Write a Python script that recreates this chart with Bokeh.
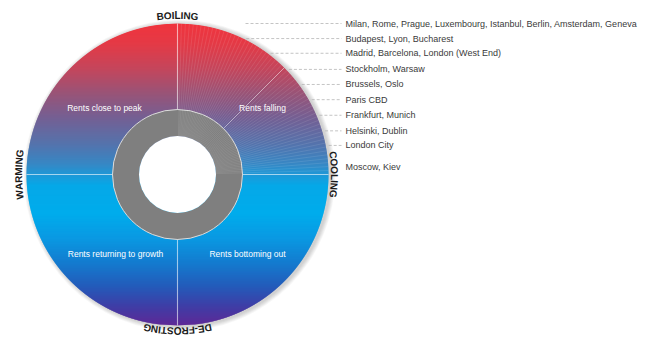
import numpy as np
from bokeh.plotting import figure
from bokeh.models import Range1d
from bokeh.embed import file_html
from bokeh.resources import INLINE
from bokeh.core.properties import value

# ---------------- data ----------------
city_groups = [
    "Milan, Rome, Prague, Luxembourg, Istanbul, Berlin, Amsterdam, Geneva",
    "Budapest, Lyon, Bucharest",
    "Madrid, Barcelona, London (West End)",
    "Stockholm, Warsaw",
    "Brussels, Oslo",
    "Paris CBD",
    "Frankfurt, Munich",
    "Helsinki, Dublin",
    "London City",
    "Moscow, Kiev",
]
# position on the property clock (hours after 12 o'clock)
clock_hours = [0.0, 0.86, 1.22, 1.53, 1.78, 2.01, 2.23, 2.44, 2.63, 2.91]
has_leader = [True, True, True, True, True, True, True, True, True, False]

phases = ["BOILING", "COOLING", "DE-FROSTING", "WARMING"]
phase_hours = [0, 3, 6, 9]

quadrant_labels = ["Rents falling", "Rents bottoming out",
                   "Rents returning to growth", "Rents close to peak"]

# ---------------- layout / style ----------------
W, H = 658, 338
cx, cy = 177.0, 164.0          # clock centre (data = pixels)
R = 151.0                      # outer radius
R_RING = 65.0                  # grey ring outer radius
R_HOLE = 38.5                  # white hole radius
FONT = "Liberation Sans"

p = figure(width=W, height=H, x_range=Range1d(0, W), y_range=Range1d(0, H),
           output_backend="svg", toolbar_location=None, min_border=0,
           x_axis_location=None, y_axis_location=None)
p.grid.visible = False
p.outline_line_color = None
p.background_fill_color = "white"
p.border_fill_color = "white"

# soft drop shadow
for k in range(1, 7):
    p.circle(x=[cx + 2.0], y=[cy - 1.0], radius=R + k * 0.8,
             fill_color="black", fill_alpha=0.03, line_color=None)

# vertical colour gradient (stops by depth below the top of the clock)
stops_d = [0, 20, 45, 70, 95, 120, 140, 151, 162, 190, 215, 240, 262, 282, 302]
stops_c = np.array([
    (240, 52, 62), (228, 58, 70), (196, 70, 92), (152, 84, 120), (115, 96, 148),
    (85, 115, 172), (55, 135, 196), (30, 152, 215), (5, 168, 232), (0, 172, 236),
    (10, 152, 226), (20, 122, 206), (35, 92, 186), (62, 62, 166), (95, 40, 150)], float)
stops_t = np.array(stops_d) / 302.0


def grad(t):
    return "#%02x%02x%02x" % tuple(int(round(np.interp(t, stops_t, stops_c[:, i]))) for i in range(3))


def half_w(yy):
    return np.sqrt(max(R * R - (yy - cy) ** 2, 0.0))


xs_b, ys_b, cols_b = [], [], []
step = 1.0
yb = cy - R
while yb < cy + R:
    y0 = yb
    y1 = min(yb + step + 0.6, cy + R)
    ym = (y0 + y1) / 2
    w0, w1 = half_w(y0), half_w(y1)
    xs_b.append([cx - w0, cx + w0, cx + w1, cx - w1])
    ys_b.append([y0, y0, y1, y1])
    cols_b.append(grad((cy + R - ym) / (2 * R)))
    yb += step
p.patches(xs=xs_b, ys=ys_b, fill_color=cols_b, line_color=None)

# grey ring and white hole
p.annulus(x=[cx], y=[cy], inner_radius=R_HOLE, outer_radius=R_RING,
          fill_color="#7f7f7f", line_color=None)
p.circle(x=[cx], y=[cy], radius=R_RING, fill_color=None,
         line_color="#dcdcdc", line_width=1)
p.circle(x=[cx], y=[cy], radius=R_HOLE, fill_color="white", line_color=None)

# fine radial lines in the "falling" quadrant
ang = np.radians(np.arange(1.5, 90, 1.5))
p.segment(x0=cx + R_HOLE * np.cos(ang), y0=cy + R_HOLE * np.sin(ang),
          x1=cx + R * np.cos(ang), y1=cy + R * np.sin(ang),
          line_color="white", line_alpha=0.14, line_width=0.7)
a45 = np.radians(45)
p.segment(x0=[cx + R_RING * np.cos(a45)], y0=[cy + R_RING * np.sin(a45)],
          x1=[cx + R * np.cos(a45)], y1=[cy + R * np.sin(a45)],
          line_color="white", line_alpha=0.45, line_width=1)

# quadrant dividers
p.segment(x0=[cx, cx, cx + R_RING, cx - R_RING], y0=[cy + R_RING, cy - R_RING, cy, cy],
          x1=[cx, cx, cx + R, cx - R], y1=[cy + R, cy - R, cy, cy],
          line_color="white", line_alpha=0.6, line_width=1.1)

# quadrant texts
q_off = [(85, 67), (70, -79), (-62, -79), (-73, 67)]
p.text(x=[cx + dx for dx, dy in q_off], y=[cy + dy for dx, dy in q_off], text=quadrant_labels,
       text_font=value(FONT), text_font_size="8.5px", text_color="white",
       text_align="center", text_baseline="middle")

# phase words set along the rim
CW = {'B': .722, 'O': .778, 'I': .278, 'L': .611, 'N': .722, 'G': .778, 'C': .722,
      'W': .944, 'A': .722, 'R': .722, 'M': .833, 'D': .722, 'E': .667, '-': .333,
      'F': .611, 'S': .667, 'T': .611}
phase_r = [159, 157, 156.5, 159]
fs = 10.0
tx, ty, ta, tt = [], [], [], []
for word, hr, r in zip(phases, phase_hours, phase_r):
    a0 = np.radians(90 - 30 * hr)
    widths = [CW[c] * fs for c in word]
    s = -sum(widths) / 2
    for c, w in zip(word, widths):
        a = a0 - (s + w / 2) / r
        tx.append(cx + r * np.cos(a)); ty.append(cy + r * np.sin(a))
        ta.append(a - np.pi / 2); tt.append(c)
        s += w
p.text(x=tx, y=ty, text=tt, angle=ta, text_font=value(FONT), text_font_size="10px",
       text_font_style="bold", text_color="#1a1a1a", text_align="center",
       text_baseline="middle")

# city labels with dashed leaders
LABEL_X = 345
lab_y = [cy + R * np.sin(np.radians(90 - 30 * h)) for h in clock_hours]
lx0, lx1, ly = [], [], []
for yv, show in zip(lab_y, has_leader):
    if show:
        lx0.append(max(cx + half_w(yv) + 3, 245)); lx1.append(LABEL_X - 4); ly.append(yv)
p.segment(x0=lx0, y0=ly, x1=lx1, y1=ly, line_color="#b5b5b5", line_width=0.8,
          line_dash="3 2")
p.text(x=[LABEL_X] * len(city_groups), y=lab_y, text=city_groups,
       text_font=value(FONT), text_font_size="9px", text_color="#3a3a3a",
       text_align="left", text_baseline="middle")

open("out.html", "w").write(file_html(p, INLINE))
